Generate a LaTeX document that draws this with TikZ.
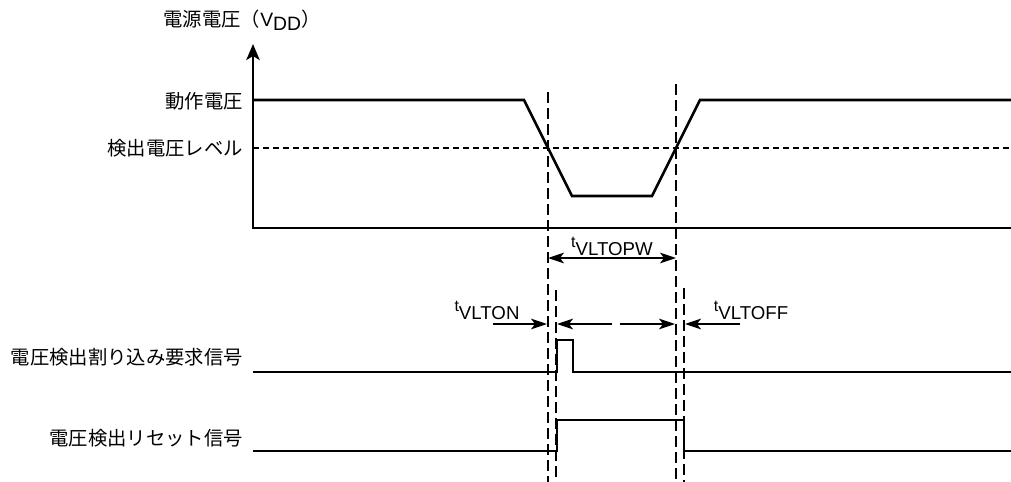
\documentclass[tikz,border=0pt]{standalone}
\usepackage{fontspec}
\setmainfont{Liberation Sans}
\newfontfamily\jp{Noto Sans CJK JP}
\usetikzlibrary{arrows.meta}

% t with a lowered name, as in t_VLTON
\newcommand{\tname}[1]{{\fontsize{12}{12}\selectfont t}\raisebox{-6pt}{#1}}

\begin{document}
\begin{tikzpicture}[x=0.75pt,y=-0.75pt,>={Stealth[length=12pt,width=8pt,inset=3pt]},
  sig/.style={line width=1.9pt},
  guide/.style={line width=0.8pt,dash pattern=on 8pt off 4pt},
  lvl/.style={line width=1.6pt,dash pattern=on 4.5pt off 3pt},
  dim/.style={line width=1.3pt},
  jlab/.style={anchor=east,inner sep=0pt,font=\jp\fontsize{14.5}{15}\selectfont},
  tlab/.style={anchor=south,inner sep=0pt,font=\fontsize{14}{15}\selectfont}]
\useasboundingbox (0,0) rectangle (1011,482);

% labels
\node[inner sep=0pt,font=\fontsize{14.5}{15}\selectfont] (vdd) at (242,20) {{\jp 電源電圧（}V\raisebox{-3pt}{DD}{\jp ）}};
\node[jlab] (op) at (243,101) {動作電圧};
\node[jlab] (det) at (243,148) {検出電圧レベル};
\node[jlab] (irq) at (243,357) {電圧検出割り込み要求信号};
\node[jlab] (rst) at (243,438) {電圧検出リセット信号};

% axis
\coordinate (o) at (253,228);
\coordinate (top) at (253,44);
\draw[sig,{Stealth[length=12pt,width=10pt,inset=3pt]}-] (top) -- (o) -- (1011,228);

% supply voltage
\draw[lvl] (253,148) -- (1011,148);
\draw[sig] (253,100) -- (524,100) -- (572,196) -- (652,196) -- (700,100) -- (1011,100);

% guides
\draw[guide] (548,92) -- (548,482);
\draw[guide] (676,84) -- (676,482);
\draw[guide] (556,290) -- (556,482);
\draw[guide] (684,288) -- (684,482);

% times
\coordinate (pwa) at (548,258);
\coordinate (pwb) at (676,258);
\draw[dim,<->] (pwa) -- (pwb);
\node[tlab] (pw) at (612,256) {\tname{VLTOPW}};

\coordinate (ona) at (493,324);
\coordinate (onb) at (547,324);
\draw[dim,->] (ona) -- (onb);
\node[tlab] (on) at (487,320) {\tname{VLTON}};

\coordinate (ma) at (612,324);
\coordinate (mb) at (557,324);
\coordinate (mc) at (620,324);
\coordinate (md) at (675,324);
\draw[dim,->] (ma) -- (mb);
\draw[dim,->] (mc) -- (md);

\coordinate (offa) at (740,324);
\coordinate (offb) at (685,324);
\draw[dim,->] (offa) -- (offb);
\node[tlab] (off) at (751,320) {\tname{VLTOFF}};

% signals
\draw[sig] (253,372) -- (557,372) -- (557,340) -- (573,340) -- (573,372) -- (1011,372);
\draw[sig] (253,451) -- (557,451) -- (557,420) -- (684,420) -- (684,451) -- (1011,451);
\end{tikzpicture}
\end{document}
